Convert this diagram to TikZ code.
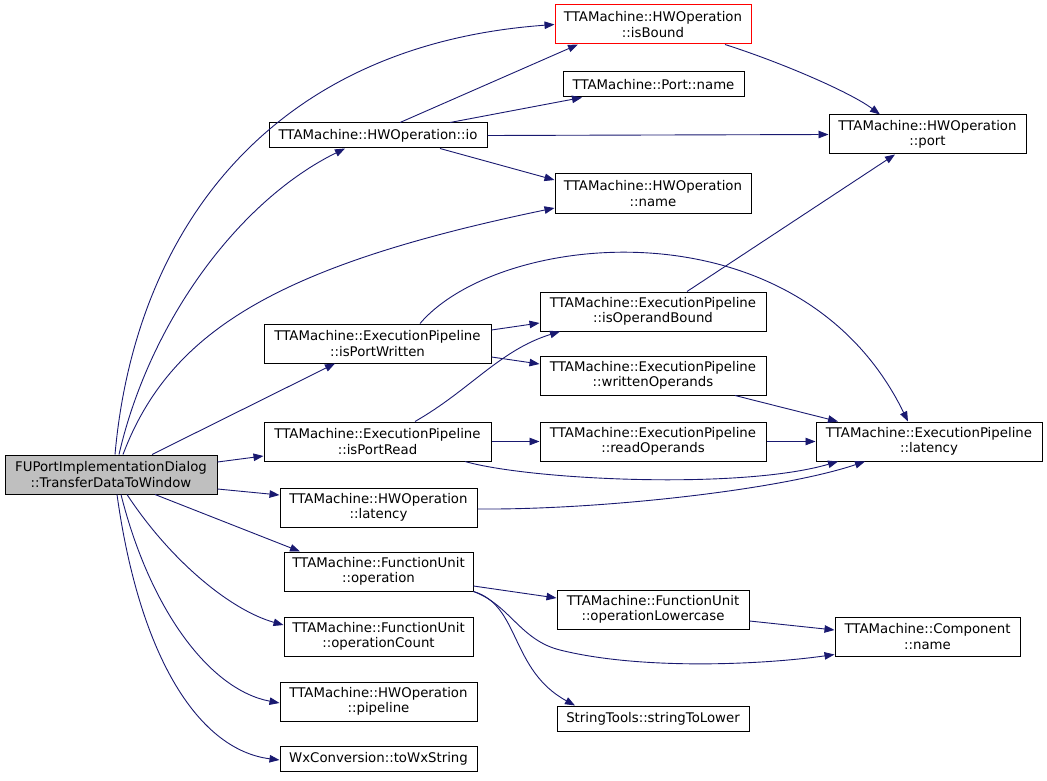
\documentclass[tikz,border=0pt]{standalone}
\usepackage{fontspec}
\setsansfont{DejaVu Sans}
\usetikzlibrary{arrows.meta}
\definecolor{edgeblue}{RGB}{25,25,112}
\definecolor{maingray}{RGB}{191,191,191}
\tikzset{
    fnbox/.style={draw=black, fill=white, line width=1pt, align=center, inner sep=0pt,
        minimum height=39pt, font=\sffamily\fontsize{13.3}{15.5}\selectfont},
    fnline/.style={fnbox, minimum height=25pt},
    call/.style={draw=edgeblue, line width=0.9pt, -{Triangle[length=10pt,width=7.5pt]}}
}

\begin{document}
\begin{tikzpicture}[x=1pt, y=-1pt]
                \useasboundingbox (0,0) rectangle (1047,781);
                % called functions
                \node[fnbox, fill=maingray, minimum width=212pt] (main) at (111,474.5) {FUPortImplementationDialog\\::TransferDataToWindow};
                \node[fnbox, draw=red, minimum width=196pt] (isBound) at (653,24.5) {TTAMachine::HWOperation\\::isBound};
                \node[fnline, minimum width=181pt] (portName) at (653.5,84.5) {TTAMachine::Port::name};
                \node[fnline, minimum width=218pt] (io) at (378,135.5) {TTAMachine::HWOperation::io};
                \node[fnbox, minimum width=197pt] (port) at (927.5,134.5) {TTAMachine::HWOperation\\::port};
                \node[fnbox, minimum width=196pt] (hwName) at (653,193.5) {TTAMachine::HWOperation\\::name};
                \node[fnbox, minimum width=226pt] (opBound) at (653,311.5) {TTAMachine::ExecutionPipeline\\::isOperandBound};
                \node[fnbox, minimum width=227pt] (portWritten) at (377.5,343.5) {TTAMachine::ExecutionPipeline\\::isPortWritten};
                \node[fnbox, minimum width=226pt] (writtenOps) at (653,375.5) {TTAMachine::ExecutionPipeline\\::writtenOperands};
                \node[fnbox, minimum width=227pt] (portRead) at (377.5,441.5) {TTAMachine::ExecutionPipeline\\::isPortRead};
                \node[fnbox, minimum width=226pt] (readOps) at (653,441.5) {TTAMachine::ExecutionPipeline\\::readOperands};
                \node[fnbox, minimum width=226pt] (epLatency) at (929,441.5) {TTAMachine::ExecutionPipeline\\::latency};
                \node[fnbox, minimum width=197pt] (hwLatency) at (378.5,507.5) {TTAMachine::HWOperation\\::latency};
                \node[fnbox, minimum width=189pt] (operation) at (378.5,571.5) {TTAMachine::FunctionUnit\\::operation};
                \node[fnbox, minimum width=192pt] (opLower) at (653,609.5) {TTAMachine::FunctionUnit\\::operationLowercase};
                \node[fnbox, minimum width=185pt] (compName) at (927.5,636.5) {TTAMachine::Component\\::name};
                \node[fnbox, minimum width=189pt] (opCount) at (378.5,636.5) {TTAMachine::FunctionUnit\\::operationCount};
                \node[fnbox, minimum width=197pt] (pipeline) at (378.5,701.5) {TTAMachine::HWOperation\\::pipeline};
                \node[fnline, minimum width=192pt] (strLower) at (653,718.5) {StringTools::stringToLower};
                \node[fnline, minimum width=197pt] (toWx) at (378.5,758.5) {WxConversion::toWxString};
                % calls from the dialog
                \draw[call] ([xshift=4pt]main.north) .. controls (135,230) and (270,45) .. (isBound.west);
                \draw[call] ([xshift=8pt]main.north) .. controls (150,320) and (240,200) .. ([xshift=-33pt]io.south);
                \draw[call] ([xshift=12pt]main.north) .. controls (170,330) and (280,265) .. ([yshift=-14.5pt]hwName.west);
                \draw[call] ([xshift=41pt]main.north) -- ([xshift=-42.5pt]portWritten.south);
                \draw[call] ([yshift=12.5pt]main.east) -- ([yshift=-14.5pt]portRead.west);
                \draw[call] ([yshift=-14.5pt]main.east) -- ([yshift=12.5pt]hwLatency.west);
                \draw[call] ([xshift=44pt]main.south) -- ([xshift=-78.5pt]operation.north);
                \draw[call] ([xshift=16pt]main.south) .. controls (170,560) and (230,610) .. ([yshift=11.5pt]opCount.west);
                \draw[call] ([xshift=10pt]main.south) .. controls (150,610) and (210,690) .. ([yshift=-1.5pt]pipeline.west);
                \draw[call] ([xshift=6pt]main.south) .. controls (140,660) and (200,750) .. ([yshift=-1.5pt]toWx.west);
                % HWOperation::io
                \draw[call] ([xshift=22pt]io.north) -- ([xshift=-75pt]isBound.south);
                \draw[call] ([xshift=72pt]io.north) -- ([xshift=-71.5pt]portName.south);
                \draw[call] (io.east) -- (port.west);
                \draw[call] ([xshift=62pt]io.south) -- ([yshift=13.5pt]hwName.west);
                \draw[call] ([xshift=72pt]isBound.south) .. controls (780,62) and (850,92) .. ([xshift=-47.5pt]port.north);
                % execution pipeline
                \draw[call] ([xshift=34pt]opBound.north) -- ([xshift=-32.5pt]port.south);
                \draw[call] ([yshift=13.5pt]portWritten.east) -- ([yshift=-11.5pt]opBound.west);
                \draw[call] ([yshift=-13.5pt]portWritten.east) -- ([yshift=11.5pt]writtenOps.west);
                \draw[call] ([xshift=42.5pt]portWritten.north) .. controls (500,230) and (800,200) .. ([xshift=-21pt]epLatency.north);
                \draw[call] ([xshift=37.5pt]portRead.north) .. controls (470,390) and (500,350) .. ([xshift=-93pt]opBound.south);
                \draw[call] (portRead.east) -- (readOps.west);
                \draw[call] ([xshift=87.5pt]portRead.south) .. controls (530,480) and (740,490) .. ([xshift=-91pt]epLatency.south);
                \draw[call] ([xshift=82pt]writtenOps.south) -- ([xshift=-91pt]epLatency.north);
                \draw[call] (readOps.east) -- (epLatency.west);
                \draw[call] ([yshift=-1.5pt]hwLatency.east) .. controls (600,510) and (780,490) .. ([xshift=-64pt]epLatency.south);
                % FunctionUnit::operation
                \draw[call] ([yshift=-14.5pt]operation.east) -- ([yshift=11.5pt]opLower.west);
                \draw[call] (operation.south east) .. controls (510,605) and (520,640) .. (560,650) .. controls (640,670) and (760,665) .. ([yshift=-18pt]compName.west);
                \draw[call] (operation.south east) .. controls (520,605) and (510,670) .. ([xshift=-78pt]strLower.north);
                \draw[call] ([yshift=-11.5pt]opLower.east) -- ([yshift=6.5pt]compName.west);
            \end{tikzpicture}
\end{document}
